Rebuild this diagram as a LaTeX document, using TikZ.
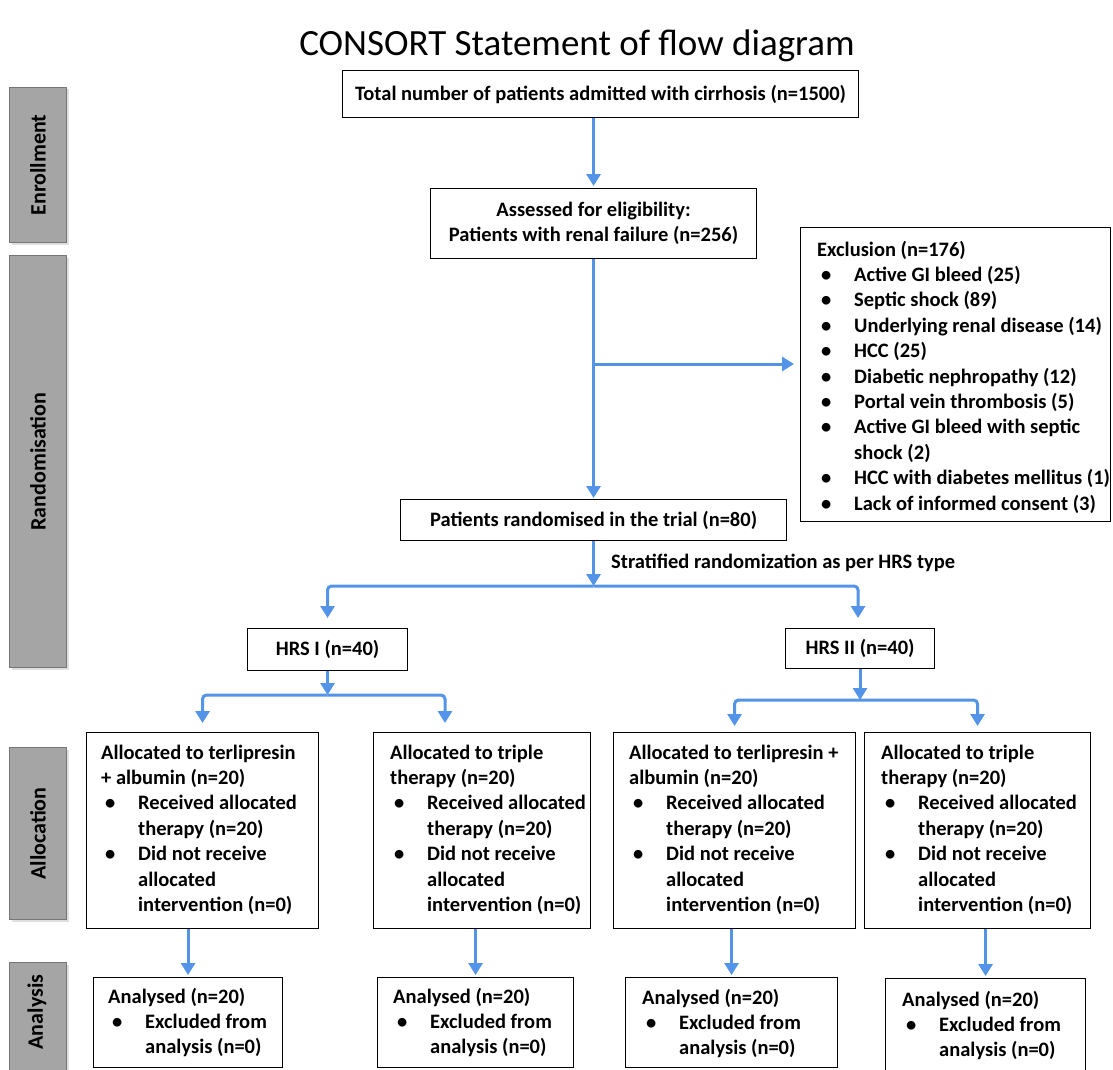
\documentclass[tikz,border=0pt]{standalone}
\usepackage{fontspec}
\setmainfont{Carlito}
\usetikzlibrary{arrows.meta,shadows,calc}
\definecolor{arrblue}{RGB}{83,148,232}
\definecolor{bargray}{RGB}{165,165,165}
\definecolor{bardraw}{RGB}{118,118,118}
\newcommand{\fs}{\fontsize{20.5}{25.3}\selectfont\bfseries}
\newcommand{\bitem}[1]{\par\hangindent=37pt\hangafter=0\noindent\llap{\makebox[33pt][l]{\textbullet}}#1}
\newcommand{\listtext}[2]{\parbox[t]{#1}{\fontsize{20.5}{25.4}\selectfont\bfseries\raggedright\let\\\newline #2}}
\newcommand{\boxat}[5]{\node[box, anchor=north west, minimum width={#4-#2}, minimum height={#5-#3}] (#1) at (#2,#3)}
\tikzset{
  box/.style={draw=black, line width=1.1pt, rectangle, inner sep=0pt, fill=white, font=\fs, align=center},
  bar/.style={draw=bardraw, line width=1pt, fill=bargray, rectangle, inner sep=0pt,
              drop shadow={opacity=0.25, shadow xshift=2pt, shadow yshift=-2pt}},
  bartext/.style={rotate=90, font=\fontsize{22}{26}\selectfont\bfseries, inner sep=0pt},
  listnode/.style={anchor=base west, inner sep=0pt},
  arr/.style={draw=arrblue, line width=3pt, -{Triangle[width=14pt,length=12pt]}},
}
\begin{document}
\begin{tikzpicture}[x=1pt, y=-1pt]
\useasboundingbox (0,0) rectangle (1113,1070);
% title
\node[inner sep=0pt, font=\fontsize{37}{42}\selectfont] (title) at (577,46) {CONSORT Statement of flow diagram};
% side bars
\node[bar, anchor=north west, minimum width=57, minimum height=155] (enr) at (9,87) {};
\node[bar, anchor=north west, minimum width=57, minimum height=412] (rnd) at (9,255) {};
\node[bar, anchor=north west, minimum width=57, minimum height=172] (alc) at (9,747) {};
\node[bar, anchor=north west, minimum width=57, minimum height=120] (ana) at (9,962) {};
\node[bartext] (enrt) at (enr.center) {Enrollment};
\node[bartext] (rndt) at (rnd.center) {Randomisation};
\node[bartext] (alct) at (alc.center) {Allocation};
\node[bartext] (anat) at (37,1012) {Analysis};
% main boxes
\boxat{total}{342}{70}{858}{117} {Total number of patients admitted with cirrhosis (n=1500)};
\boxat{assessed}{430}{188}{756}{258} {Assessed for eligibility:\\Patients with renal failure (n=256)};
\boxat{rand}{400}{499}{786}{540} {Patients randomised in the trial (n=80)};
\boxat{hrs1}{247}{628}{407}{670} {HRS I (n=40)};
\boxat{hrs2}{785}{628}{934}{668} {HRS II (n=40)};
\boxat{excl}{800}{227}{1110}{521} {};
\boxat{a1}{86}{732}{318}{928} {};
\boxat{a2}{373}{732}{590}{928} {};
\boxat{a3}{613}{732}{855}{928} {};
\boxat{a4}{864}{732}{1090}{928} {};
\boxat{n1}{93}{977}{282}{1067} {};
\boxat{n2}{377}{977}{573}{1067} {};
\boxat{n3}{625}{977}{837}{1067} {};
\boxat{n4}{885}{978}{1085}{1080} {};
% list texts
\node[listnode] (exclt) at (817,256) {\listtext{300pt}{\noindent Exclusion (n=176)
\bitem{Active GI bleed (25)}
\bitem{Septic shock (89)}
\bitem{Underlying renal disease (14)}
\bitem{HCC (25)}
\bitem{Diabetic nephropathy (12)}
\bitem{Portal vein thrombosis (5)}
\bitem{Active GI bleed with septic\\shock (2)}
\bitem{HCC with diabetes mellitus (1)}
\bitem{Lack of informed consent (3)}}};
\node[listnode] (a1t) at (101,759) {\listtext{230pt}{\noindent Allocated to terlipresin\\+ albumin (n=20)
\bitem{Received allocated\\therapy (n=20)}
\bitem{Did not receive\\allocated\\intervention (n=0)}}};
\node[listnode] (a2t) at (390,759) {\listtext{230pt}{\noindent Allocated to triple\\therapy (n=20)
\bitem{Received allocated\\therapy (n=20)}
\bitem{Did not receive\\allocated\\intervention (n=0)}}};
\node[listnode] (a3t) at (629,759) {\listtext{230pt}{\noindent Allocated to terlipresin +\\albumin (n=20)
\bitem{Received allocated\\therapy (n=20)}
\bitem{Did not receive\\allocated\\intervention (n=0)}}};
\node[listnode] (a4t) at (881,759) {\listtext{230pt}{\noindent Allocated to triple\\therapy (n=20)
\bitem{Received allocated\\therapy (n=20)}
\bitem{Did not receive\\allocated\\intervention (n=0)}}};
\node[listnode] (n1t) at (108,1003) {\listtext{200pt}{\noindent Analysed (n=20)
\bitem{Excluded from\\analysis (n=0)}}};
\node[listnode] (n2t) at (393,1003) {\listtext{200pt}{\noindent Analysed (n=20)
\bitem{Excluded from\\analysis (n=0)}}};
\node[listnode] (n3t) at (642,1004) {\listtext{200pt}{\noindent Analysed (n=20)
\bitem{Excluded from\\analysis (n=0)}}};
\node[listnode] (n4t) at (902,1006) {\listtext{200pt}{\noindent Analysed (n=20)
\bitem{Excluded from\\analysis (n=0)}}};
\node[anchor=west, inner sep=0pt, font=\fs] (strat) at (611,563) {Stratified randomization as per HRS type};
% connectors
\draw[arr, shorten >=2pt] (total.south -| assessed.north) -- (assessed.north);
\draw[arr, shorten >=1pt] (assessed.south) -- (rand.north);
\draw[arr, shorten >=6pt] (assessed.south |- 0,364) -- (excl.west |- 0,364);
\draw[arr] (rand.south) -- (rand.south |- 0,586);
\draw[arr, rounded corners=4pt, shorten >=10pt] (rand.south |- 0,586) -| (hrs1.north);
\draw[arr, rounded corners=4pt, shorten >=10pt] (rand.south |- 0,586) -| ([xshift=-2pt]hrs2.north);
\draw[arr] (hrs1.south) -- (hrs1.south |- 0,695);
\draw[arr, rounded corners=4pt, shorten >=9pt] (hrs1.south |- 0,695) -| (a1.north);
\draw[arr, rounded corners=4pt, shorten >=9pt] (hrs1.south |- 0,695) -| ([xshift=72pt]a2.north west);
\draw[arr] (hrs2.south) -- (hrs2.south |- 0,700);
\draw[arr, rounded corners=4pt, shorten >=6pt] (hrs2.south |- 0,700) -| (a3.north);
\draw[arr, rounded corners=4pt, shorten >=6pt] (hrs2.south |- 0,700) -| (a4.north);
\draw[arr, shorten >=2pt] (a1.south -| n1.north) -- (n1.north);
\draw[arr, shorten >=2pt] (a2.south -| n2.north) -- (n2.north);
\draw[arr, shorten >=2pt] (a3.south -| n3.north) -- (n3.north);
\draw[arr, shorten >=2pt] (a4.south -| n4.north) -- (n4.north);
\end{tikzpicture}
\end{document}
